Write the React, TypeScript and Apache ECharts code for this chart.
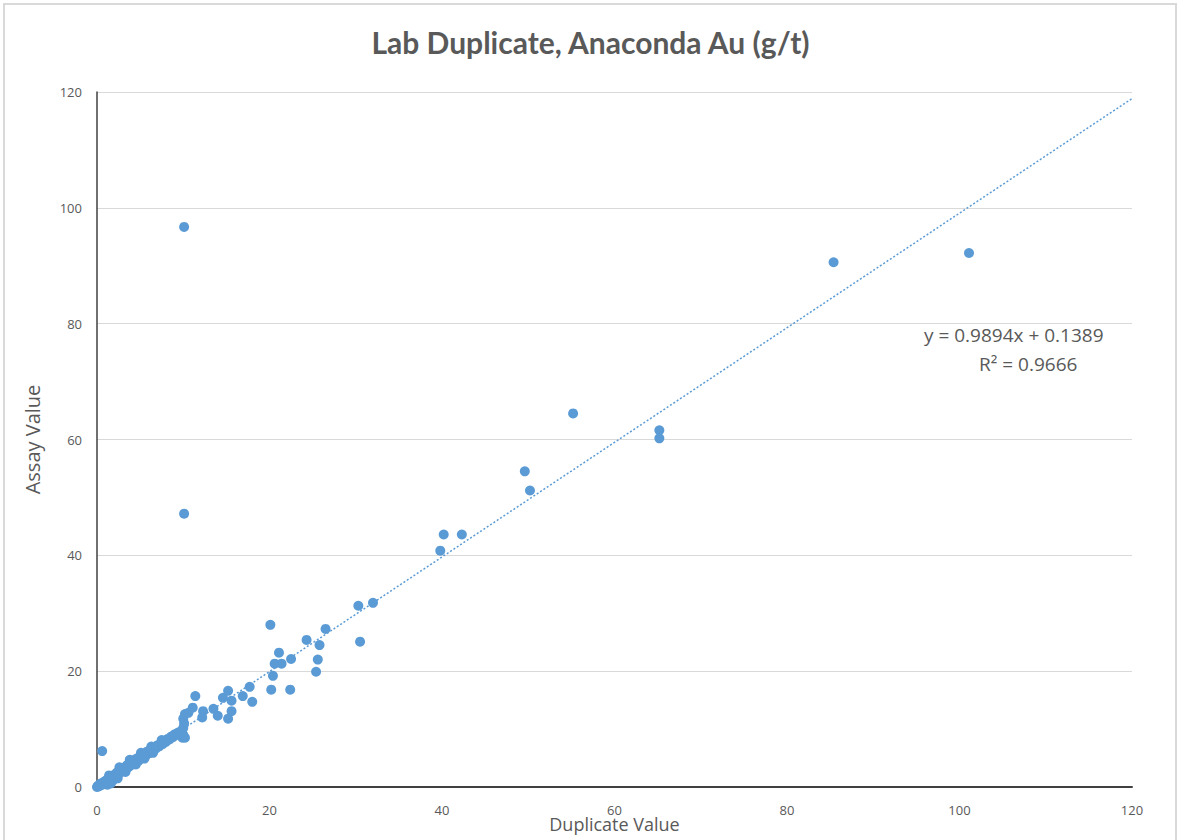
import React, { useEffect, useRef } from "react";
import * as echarts from "echarts";

const TITLE = "Lab Duplicate, Anaconda Au (g/t)";
const X_NAME = "Duplicate Value";
const Y_NAME = "Assay Value";
const SLOPE = 0.9894;
const INTERCEPT = 0.1389;
const R2 = 0.9666;
const TREND_X = [0, 120];

// [duplicate, assay]
const lowPoints: number[][] = [
  [0, 0], [0.1, 0.2], [0.2, 0.1], [0.3, 0.4], [0.5, 0.3], [0.4, 0.6], [0.7, 0.5], [0.8, 0.9],
  [1.0, 0.7], [1.1, 1.2], [1.3, 1.0], [1.5, 1.4], [1.6, 0.6], [1.8, 1.7], [1.9, 1.2], [2.0, 2.1],
  [2.2, 1.8], [2.3, 2.5], [2.5, 2.2], [2.7, 2.9], [2.8, 3.3], [3.0, 2.7], [3.2, 3.4], [3.4, 3.1],
  [3.5, 3.8], [3.7, 3.5], [3.9, 4.2], [4.0, 3.8], [4.2, 4.6], [4.4, 4.1], [4.6, 4.9], [4.8, 4.5],
  [5.0, 5.3], [5.2, 5.0], [5.4, 5.6], [5.6, 5.3], [5.8, 6.1], [6.0, 5.8], [6.2, 6.5], [6.4, 6.2],
  [6.6, 6.8], [6.8, 6.6], [7.0, 7.2], [7.2, 7.0], [7.4, 7.5], [7.6, 7.4], [7.8, 8.0], [8.0, 7.8],
  [8.2, 8.3], [8.4, 8.2], [8.6, 8.7], [8.8, 8.6], [9.0, 9.1], [9.2, 9.0], [9.4, 9.4], [9.6, 9.3],
  [9.8, 9.7], [9.9, 8.5], [10.0, 9.0], [10.0, 10.2], [10.1, 11.0], [10.0, 11.8], [10.2, 12.6],
  [10.6, 12.8], [0.6, 6.2], [1.2, 0.4], [2.4, 1.5], [3.3, 2.6], [4.5, 3.9], [5.5, 4.9], [6.5, 5.9],
  [1.4, 2.0], [2.6, 3.4], [3.8, 4.7], [5.1, 5.9], [6.3, 7.0], [7.5, 8.1],
];

const midPoints: number[][] = [
  [10.2, 8.5], [11.1, 13.7], [11.4, 15.7], [12.2, 12.0], [12.3, 13.1], [13.5, 13.5], [14.0, 12.3],
  [14.6, 15.4], [15.2, 16.6], [15.6, 14.9], [15.6, 13.1], [15.2, 11.8], [16.9, 15.7], [17.7, 17.3],
  [18.0, 14.7], [20.1, 28.0], [20.2, 16.8], [20.4, 19.2], [20.6, 21.3], [21.4, 21.3], [21.1, 23.2],
  [22.4, 16.8], [22.5, 22.1], [24.3, 25.4], [25.4, 19.9], [25.6, 22.0], [25.8, 24.5], [26.5, 27.3],
  [30.3, 31.3], [32.0, 31.8], [30.5, 25.1],
];

const highPoints: number[][] = [
  [39.8, 40.8], [40.2, 43.6], [42.3, 43.6], [49.6, 54.5], [50.2, 51.2], [55.2, 64.5],
  [65.2, 61.6], [65.2, 60.2], [85.4, 90.6], [101.1, 92.2], [10.1, 96.7], [10.1, 47.2],
];

const FONT = '"Open Sans", "Noto Sans", sans-serif';
const TITLE_FONT = 'Lato, "Open Sans", sans-serif';
const TEXT = "#595959";
const BLUE = "#5b9bd5";

export default function App() {
  const ref = useRef<HTMLDivElement>(null);
  useEffect(() => {
    document.body.style.margin = "0";
    document.documentElement.style.overflow = "hidden";
    document.body.style.overflow = "hidden";
    const chart = echarts.init(ref.current!, null, { renderer: "svg", width: 1181, height: 840 });
    const trend = TREND_X.map((x) => [x, SLOPE * x + INTERCEPT]);
    chart.setOption({
      animation: false,
      backgroundColor: "#ffffff",
      title: {
        text: TITLE,
        left: "center",
        top: 22,
        textStyle: { fontFamily: TITLE_FONT, fontSize: 30, fontWeight: "bold", color: TEXT },
      },
      grid: {
        left: 97,
        width: 1035,
        top: 92,
        height: 695,
        containLabel: false,
        outerBoundsMode: "none",
      },
      xAxis: {
        type: "value",
        min: 0,
        max: 120,
        interval: 20,
        name: X_NAME,
        nameLocation: "middle",
        nameGap: 28,
        nameMoveOverlap: false,
        nameTextStyle: { fontFamily: FONT, fontSize: 18, color: TEXT },
        axisLine: { show: true, onZero: false, lineStyle: { color: "#404040", width: 2 } },
        axisTick: { show: false },
        splitLine: { show: false },
        axisLabel: { fontFamily: FONT, fontSize: 13, color: TEXT, margin: 16 },
      },
      yAxis: {
        type: "value",
        min: 0,
        max: 120,
        interval: 20,
        name: Y_NAME,
        nameLocation: "middle",
        nameGap: 55,
        nameMoveOverlap: false,
        nameTextStyle: { fontFamily: FONT, fontSize: 20, color: TEXT },
        axisLine: { show: true, lineStyle: { color: "#404040", width: 1.5 } },
        axisTick: { show: false },
        splitLine: { show: true, lineStyle: { color: "#d9d9d9", width: 1 } },
        axisLabel: { fontFamily: FONT, fontSize: 13, color: TEXT, margin: 15 },
      },
      series: [
        {
          type: "line",
          data: trend,
          symbol: "none",
          lineStyle: { color: BLUE, width: 1.5, type: [2, 2] },
          z: 3,
        },
        {
          type: "scatter",
          data: [...lowPoints, ...midPoints, ...highPoints],
          symbolSize: 10,
          itemStyle: { color: BLUE, opacity: 1 },
          z: 4,
        },
      ],
      graphic: [
        {
          type: "rect",
          shape: { x: 4, y: 4, width: 1172, height: 860 },
          style: { fill: "none", stroke: "#d9d9d9", lineWidth: 2 },
          silent: true,
        },
        {
          type: "text",
          left: 924,
          top: 325,
          style: { text: `y = ${SLOPE}x + ${INTERCEPT}`, fontFamily: FONT, fontSize: 19, fill: TEXT },
        },
        {
          type: "text",
          left: 979,
          top: 354,
          style: { text: `R² = ${R2}`, fontFamily: FONT, fontSize: 19, fill: TEXT },
        },
      ],
    });
    return () => chart.dispose();
  }, []);
  return (
    <div
      ref={ref}
      style={{ position: "fixed", left: 0, top: 0, width: 1181, height: 840, overflow: "hidden" }}
    />
  );
}
